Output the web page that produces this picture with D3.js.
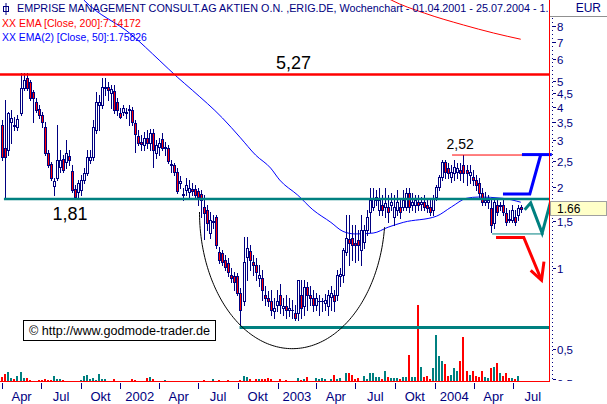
<!DOCTYPE html>
<html><head><meta charset="utf-8">
<script src="https://cdn.jsdelivr.net/npm/d3@7"></script>
<style>html,body{margin:0;padding:0;background:#fff;} svg{display:block;font-family:"Liberation Sans",Arial,sans-serif;}</style>
</head><body><svg id="c" width="607" height="404"></svg>
<script>
// ---------- DATA ----------
const startDate = new Date(2001, 3, 2); // first weekly candle (Mon 02.04.2001)
const open = [
3.42,2.80,2.76,3.51,3.42,3.36,3.79,4.70,5.12,4.94,
4.53,4.16,3.92,3.72,3.36,2.69,2.44,2.02,2.17,2.38,
2.55,2.49,2.62,2.30,1.97,1.92,1.95,2.13,2.26,2.53,
2.60,3.27,4.06,4.06,4.70,4.74,4.49,4.57,4.16,3.79,
3.82,3.79,3.89,3.89,3.48,3.11,2.95,2.88,3.06,2.93,
3.19,2.69,2.83,3.03,2.80,2.80,2.44,2.42,2.28,2.07,
1.87,1.95,1.92,1.97,1.97,1.94,1.89,1.69,1.65,1.35,
1.48,1.55,1.15,1.14,1.07,1.04,0.94,0.93,0.93,0.81,
0.75,1.10,1.16,1.05,1.03,0.92,0.92,0.79,0.77,0.75,
0.69,0.73,0.79,0.71,0.72,0.70,0.70,0.68,0.68,0.79,
0.72,0.85,0.79,0.77,0.73,0.75,0.75,0.74,0.72,0.78,
0.79,0.79,0.93,0.94,1.15,1.28,1.29,1.24,1.27,1.17,
1.25,1.39,1.62,1.69,1.79,1.65,1.72,1.69,1.69,1.72,
1.55,1.65,1.69,1.69,1.69,1.90,1.72,1.72,1.76,1.74,
1.76,1.72,1.69,1.65,1.84,2.00,2.18,2.49,2.36,2.18,
2.26,2.28,2.32,2.42,2.32,2.22,2.18,2.13,2.07,1.90,
1.76,1.76,1.67,1.47,1.72,1.70,1.72,1.60,1.53,1.51,
1.55,1.58,1.69];
const high = [
3.57,4.23,3.82,3.89,3.66,3.72,5.34,5.34,5.34,5.03,
4.61,4.31,4.06,3.82,3.51,2.76,2.49,2.17,3.42,2.76,
2.64,3.00,2.76,2.42,2.04,2.13,2.22,2.36,2.76,2.76,
3.57,4.53,4.42,5.12,5.12,4.94,4.82,4.82,4.31,3.95,
4.06,3.95,4.06,3.99,3.57,3.27,3.14,3.22,3.27,3.30,
3.30,3.00,3.06,3.19,2.95,2.88,2.53,2.47,2.36,2.20,
1.99,2.17,2.13,2.07,2.04,1.99,1.95,1.87,1.72,1.62,
1.58,1.58,1.20,1.17,1.12,1.09,1.00,0.97,0.96,0.84,
1.31,1.31,1.22,1.12,1.09,1.03,0.98,0.86,0.82,0.83,
0.77,0.83,0.87,0.77,0.79,0.77,0.76,0.73,0.90,0.90,
0.90,0.89,0.86,0.83,0.81,0.79,0.77,0.80,0.83,0.86,
0.83,0.98,1.00,1.19,1.58,1.58,1.45,1.45,1.39,1.58,
1.45,1.65,1.99,1.99,1.95,1.99,1.87,1.99,1.87,1.90,
1.87,1.95,1.82,1.95,1.99,1.99,1.90,1.87,1.87,1.84,
1.87,1.82,1.79,1.87,2.04,2.22,2.53,2.53,2.47,2.42,
2.53,2.47,2.47,2.64,2.42,2.42,2.32,2.22,2.17,1.99,
1.92,1.87,1.79,1.79,1.79,1.76,1.79,1.67,1.65,1.72,
1.65,1.72,1.72];
const low = [
2.53,1.82,2.64,2.93,3.27,3.27,3.72,4.61,4.61,4.23,
3.51,3.82,3.63,3.36,2.64,2.38,2.13,1.87,2.13,2.28,
2.28,2.36,2.42,1.92,1.82,1.82,1.87,2.07,2.22,2.47,
2.53,3.19,3.27,3.95,4.42,4.23,3.95,3.79,3.72,3.63,
3.72,3.63,3.42,3.42,2.71,2.88,2.76,2.76,2.80,2.76,
2.38,2.57,2.64,2.76,2.64,2.47,2.28,2.22,1.90,1.99,
1.79,1.87,1.84,1.87,1.84,1.72,1.55,1.28,1.39,1.29,
1.41,1.19,1.04,1.03,0.98,0.93,0.89,0.83,0.79,0.60,
0.73,0.90,0.98,0.94,0.90,0.86,0.76,0.73,0.72,0.67,
0.65,0.69,0.68,0.67,0.65,0.66,0.65,0.64,0.64,0.65,
0.67,0.70,0.73,0.69,0.70,0.67,0.69,0.70,0.67,0.70,
0.69,0.76,0.86,0.89,1.12,1.03,1.07,1.05,1.07,1.03,
1.19,1.33,1.36,1.65,1.72,1.58,1.58,1.55,1.48,1.65,
1.45,1.58,1.54,1.65,1.65,1.62,1.65,1.62,1.65,1.65,
1.65,1.62,1.58,1.58,1.79,1.95,2.13,2.17,2.17,2.09,
2.13,2.17,2.13,2.09,2.04,2.07,2.04,1.95,1.84,1.72,
1.72,1.67,1.36,1.41,1.58,1.65,1.58,1.45,1.48,1.48,
1.45,1.51,1.62];
const close = [
2.60,2.60,3.79,3.63,3.39,3.60,4.70,5.03,4.70,4.31,
4.31,3.89,3.72,3.51,2.69,2.42,2.17,2.11,2.53,2.53,
2.32,2.69,2.53,1.95,1.84,2.07,2.13,2.26,2.60,2.60,
3.36,4.16,4.16,4.74,4.74,4.61,4.65,3.89,3.89,3.66,
3.95,3.82,3.92,3.51,3.17,2.93,2.90,3.06,2.93,3.19,
2.76,2.88,2.93,2.80,2.83,2.51,2.42,2.28,1.94,2.11,
1.89,2.04,1.99,1.94,1.87,1.84,1.79,1.60,1.47,1.51,
1.50,1.22,1.07,1.05,1.01,0.97,0.92,0.89,0.81,0.70,
1.05,1.19,1.07,1.03,0.97,0.94,0.83,0.77,0.75,0.70,
0.71,0.75,0.73,0.72,0.70,0.71,0.70,0.65,0.90,0.71,
0.85,0.79,0.77,0.73,0.77,0.75,0.75,0.76,0.79,0.81,
0.75,0.94,0.95,1.17,1.29,1.24,1.22,1.22,1.22,1.39,
1.39,1.55,1.79,1.82,1.84,1.79,1.65,1.75,1.62,1.76,
1.69,1.76,1.62,1.79,1.90,1.69,1.76,1.79,1.72,1.76,
1.69,1.67,1.62,1.82,2.00,2.18,2.49,2.28,2.26,2.28,
2.38,2.36,2.26,2.26,2.26,2.28,2.13,2.04,1.90,1.76,
1.79,1.80,1.45,1.76,1.62,1.72,1.62,1.48,1.51,1.65,
1.48,1.67,1.66];
// weekly volume (x10,000 shares)
const volume = [
4,7,9,3,2,5,9,3,3,1, 0,0,1,1,2,1,1,5,2,2, 1,0,0,0,0,0,1,5,6,2,
3,1,7,2,2,0,0,2,0,0, 0,0,0,2,1,0,0,0,3,4, 2,0,0,0,1,0,0,0,0,0,
0,0,0,0,0,0,0,1,0,0, 2,0,1,0,0,1,0,0,0,1, 5,4,2,0,2,2,2,2,3,2,
0,0,2,0,1,0,0,0,3,1, 2,4,0,0,3,2,3,2,0,2, 6,2,3,0,8,8,6,2,3,0,
5,2,8,8,4,4,2,10,4,3, 3,3,2,4,4,26,4,4,76,14, 4,5,2,13,46,25,20,17,5,6,
13,10,20,44,10,6,10,5,4,10, 4,3,13,14,18,8,5,8,3,3, 2,5,0];
// moving averages (week index -> value)
const ema50Week = [22,27,43,52,58,63,73,79,84,89,92,98,103,109,113,117,123,128,133,144,149,154,158,166,172];
const ema50Val  = [11.6,10.0,7.40,5.97,5.16,4.61,3.63,3.06,2.64,2.36,2.13,1.87,1.65,1.48,1.37,1.34,1.35,1.42,1.48,1.56,1.69,1.82,1.84,1.82,1.76];
const ema200Week = [125,129,140,153,163,172];
const ema200Val  = [10.6,10.0,8.94,8.07,7.53,7.14];
// axis ticks
const priceTicks = [8,7,6,5,4.5,4,3.5,3,2.5,2,1.5,1,0.5];
const quarterLabels = ["Apr","Jul","Okt","2002","Apr","Jul","Okt","2003","Apr","Jul","Okt","2004","Apr","Jul"];
// analysis levels & drawings (week index, price)
const resistance = 5.27, support = 1.81, bottomLevel = 0.60, highLevel = 2.64, highLabel = "2,52";
const arcLeft = [65.4, 1.618], arcBottom = [96.2, 0.50], arcEndPrice = 1.42;
const bluePath = [[166.1,1.89],[175.0,1.89],[178.6,2.64]];
const blueTop = [[172.4,2.65],[182.3,2.65]];
const tealZig = [[173.3,1.65],[175.3,1.75],[179.1,1.35],[181.9,1.77]];
const tealLow = [[162.5,1.34],[179.7,1.34]];
const redArrow = [[163.8,1.30],[173.0,1.30],[178.9,0.90]];
const redHead = [[175.3,0.98],[178.9,0.90],[179.7,1.056]];
const lastPrice = 1.66;

// ---------- CHART ----------
const NAVY="#000080", TEAL="#008080", RED="#ff0000", BLUE="#0000ff";
const plotR = 549, plotB = 381;
const svg = d3.select("#c");
svg.append("rect").attr("width",607).attr("height",404).attr("fill","#fff");
const x = d3.scaleTime().domain([new Date(2001,3,1), new Date(2004,6,1)]).range([2,513]);
const y = d3.scaleLog().domain([1,8]).range([268,26]);
const yVol = d3.scaleLinear().domain([0,100]).range([plotB, plotB-100]);
const weekDate = w => new Date(startDate.getTime() + w*7*864e5);
const xw = w => x(weekDate(w));

const defs = svg.append("defs");
defs.append("clipPath").attr("id","plot").append("rect").attr("x",0).attr("y",0).attr("width",plotR).attr("height",plotB);
defs.append("clipPath").attr("id","axisclip").append("rect").attr("x",plotR).attr("y",0).attr("width",607-plotR).attr("height",plotB);
defs.append("clipPath").attr("id","titleclip").append("rect").attr("x",0).attr("y",0).attr("width",plotR).attr("height",60);

const plot = svg.append("g").attr("clip-path","url(#plot)");

// volume
plot.append("g").selectAll("rect").data(volume.map((v,i)=>({v,i})).filter(d=>d.v>0)).join("rect")
  .attr("x",d=>Math.round(xw(d.i))-1).attr("width",2)
  .attr("y",d=>Math.round(yVol(d.v))).attr("height",d=>plotB-Math.round(yVol(d.v)))
  .attr("fill",d=>close[d.i]>=open[d.i]?TEAL:RED);

// moving averages
const maLine = d3.line().x(d=>xw(d[0])).y(d=>y(d[1])).curve(d3.curveMonotoneX);
plot.append("path").attr("d",maLine(ema50Week.map((w,i)=>[w,ema50Val[i]]))).attr("fill","none").attr("stroke",BLUE).attr("stroke-width",1);
plot.append("path").attr("d",maLine(ema200Week.map((w,i)=>[w,ema200Val[i]]))).attr("fill","none").attr("stroke",RED).attr("stroke-width",1);

// candles
const cg = plot.append("g").attr("shape-rendering","crispEdges");
open.forEach((o,i)=>{
  const c = close[i], cx = Math.round(xw(i));
  const yh = Math.round(y(high[i])), yl = Math.round(y(low[i]));
  cg.append("rect").attr("x",cx).attr("y",yh).attr("width",1).attr("height",Math.max(1,yl-yh+1)).attr("fill",NAVY);
  const top = Math.round(y(Math.max(o,c))), bot = Math.round(y(Math.min(o,c)));
  const h = Math.max(1,bot-top+1);
  cg.append("rect").attr("x",cx-1).attr("y",top).attr("width",3).attr("height",h).attr("fill",NAVY);
  if (h>=3) cg.append("rect").attr("x",cx).attr("y",top+1).attr("width",1).attr("height",h-2).attr("fill",c<o?RED:"#fff");
});

// horizontal levels
const hl = (p, x1, x2, col, w) => plot.append("line").attr("x1",x1).attr("x2",x2).attr("y1",y(p)).attr("y2",y(p)).attr("stroke",col).attr("stroke-width",w);
hl(resistance, 0, plotR, RED, 2.5);
hl(support, xw(0.5), plotR, TEAL, 2.5);
hl(bottomLevel, xw(78.7), plotR, TEAL, 3);
hl(highLevel, xw(149.2), plotR, RED, 1);

// cup arc
{
  const cx = xw(arcBottom[0]), cy = y(arcLeft[1]);
  const rx = cx - xw(arcLeft[0]), ry = y(arcBottom[1]) - cy;
  const endT = Math.asin((y(arcEndPrice)-cy)/ry);
  const pts = d3.range(Math.PI, endT, -0.02).concat([endT]).map(t=>[cx+rx*Math.cos(t), cy+ry*Math.sin(t)]);
  plot.append("path").attr("d",d3.line()(pts)).attr("fill","none").attr("stroke","#000").attr("stroke-width",1);
}

// labels
const lab = (t, w, p, fs) => svg.append("text").attr("x",xw(w)).attr("y",y(p)).attr("text-anchor","middle").attr("font-size",fs).attr("fill","#000").text(t);
lab("5,27", 96.6, 5.55, 18);
lab("1,81", 22.4, 1.51, 18);
lab(highLabel, 151.9, 2.77, 14);

// right-side drawings
const pl = d3.line().x(d=>xw(d[0])).y(d=>y(d[1]));
const dr = svg.append("g").attr("fill","none").attr("stroke-linejoin","miter");
dr.append("path").attr("d",pl(tealLow)).attr("stroke",TEAL).attr("stroke-width",1);
dr.append("path").attr("d",pl(bluePath)).attr("stroke",BLUE).attr("stroke-width",3);
dr.append("path").attr("d",pl(blueTop)).attr("stroke",BLUE).attr("stroke-width",3);
dr.append("path").attr("d",pl(tealZig)).attr("stroke",TEAL).attr("stroke-width",3);
dr.append("path").attr("d",pl(redArrow)).attr("stroke",RED).attr("stroke-width",3);
dr.append("path").attr("d",pl(redHead)).attr("stroke",RED).attr("stroke-width",3);

// frame
svg.append("line").attr("x1",plotR+0.5).attr("x2",plotR+0.5).attr("y1",0).attr("y2",plotB+1).attr("stroke",RED).attr("stroke-width",1);
svg.append("line").attr("x1",0).attr("x2",plotR+1).attr("y1",plotB+0.5).attr("y2",plotB+0.5).attr("stroke",RED).attr("stroke-width",1);

// right axis
const AXFS = 11.5;
const ax = svg.append("g").attr("clip-path","url(#axisclip)");
ax.append("line").attr("x1",552.5).attr("x2",552.5).attr("y1",18).attr("y2",plotB).attr("stroke",NAVY).attr("stroke-dasharray","1,3");
priceTicks.forEach(v=>{
  const yy = Math.round(y(v))+0.5;
  ax.append("line").attr("x1",553).attr("x2",556).attr("y1",yy).attr("y2",yy).attr("stroke",NAVY);
  ax.append("text").attr("x",557).attr("y",yy+4.2).attr("font-size",AXFS).attr("fill",NAVY).text(String(v).replace(".",","));
});
// volume axis label (mostly hidden below the frame)
ax.append("line").attr("x1",553).attr("x2",556).attr("y1",379.5).attr("y2",379.5).attr("stroke",NAVY);
ax.append("text").attr("x",557).attr("y",388).attr("font-size",AXFS).attr("fill",NAVY).text("0,5");
// last price box
{
  const yy = Math.round(y(lastPrice));
  svg.append("rect").attr("x",550.5).attr("y",yy-7.5).attr("width",56).attr("height",14).attr("fill","#ffffc8").attr("stroke","#a0a0a0");
  svg.append("text").attr("x",557).attr("y",yy+4).attr("font-size",12).attr("fill","#000").text(lastPrice.toFixed(2));
}
svg.append("line").attr("x1",550).attr("x2",607).attr("y1",16.5).attr("y2",16.5).attr("stroke","#909090");
svg.append("text").attr("x",601).attr("y",12).attr("text-anchor","end").attr("font-size",12).attr("fill",NAVY).text("EUR");

// header
const fit = (sel, width) => { const l = sel.node().getComputedTextLength(); const fs = +sel.attr("font-size"); sel.attr("font-size", (fs*width/l).toFixed(2)); return sel; };
const hdr = svg.append("g").attr("clip-path","url(#titleclip)");
hdr.append("rect").attr("x",3.5).attr("y",6.5).attr("width",5).attr("height",5).attr("fill","none").attr("stroke",NAVY);
hdr.append("line").attr("x1",6).attr("x2",6).attr("y1",3).attr("y2",15).attr("stroke",NAVY);
fit(hdr.append("text").attr("x",17).attr("y",12).attr("font-size",12).attr("fill",NAVY)
  .text("EMPRISE MANAGEMENT CONSULT.AG AKTIEN O.N. ,ERIG.DE, Wochenchart - 01.04.2001 - 25.07.2004 - 1."), 532);
fit(hdr.append("text").attr("x",2).attr("y",27).attr("font-size",12).attr("fill",RED).text("XX EMA [Close, 200]:7.14172"), 139);
fit(hdr.append("text").attr("x",2).attr("y",41).attr("font-size",12).attr("fill",BLUE).text("XX EMA(2) [Close, 50]:1.75826"), 145);

// copyright box
svg.append("rect").attr("x",23.5).attr("y",320.5).attr("width",192).attr("height",20).attr("fill","#fff").attr("stroke","#000");
fit(svg.append("text").attr("x",29).attr("y",335).attr("font-size",13).attr("fill","#000").text("\u00A9 http://www.godmode-trader.de"), 181);

// bottom axis
const qStarts = quarterLabels.map((_,i)=>d3.timeMonth.offset(new Date(2001,3,1), 3*i));
const bx = svg.append("g");
qStarts.forEach((d,i)=>{
  const xx = Math.round(x(d))+0.5;
  bx.append("line").attr("x1",xx).attr("x2",xx).attr("y1",383).attr("y2",389).attr("stroke",NAVY);
  const mid = (x(d)+x(d3.timeMonth.offset(d,3)))/2;
  bx.append("text").attr("x",mid).attr("y",401).attr("text-anchor","middle").attr("font-size",13).attr("fill",NAVY).text(quarterLabels[i]);
});
</script></body></html>
